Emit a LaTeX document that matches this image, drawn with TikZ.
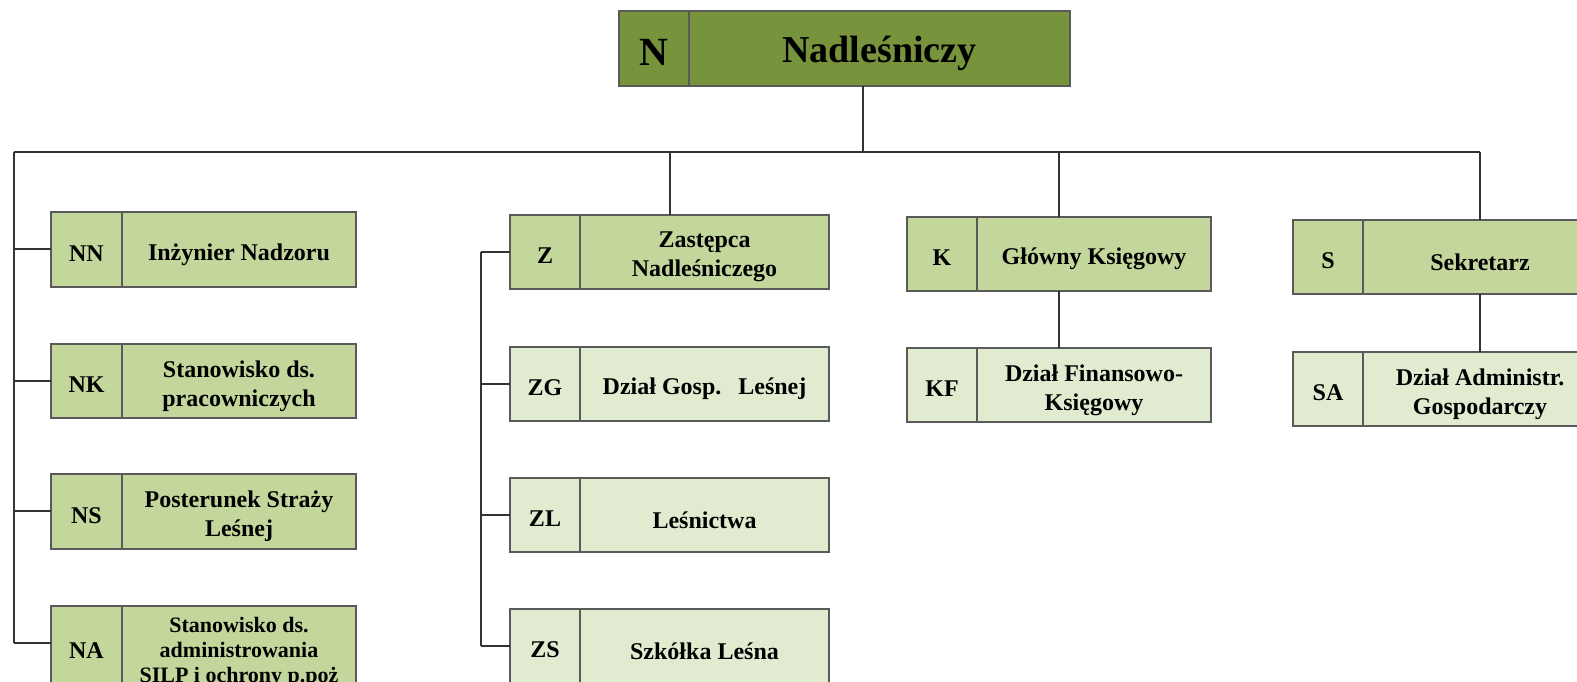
\documentclass[tikz,border=0pt]{standalone}
\usepackage{fontspec}
\setmainfont{Liberation Serif}
\usetikzlibrary{calc}
\definecolor{gdark}{HTML}{77933C}
\definecolor{gmid}{HTML}{C3D69B}
\definecolor{glight}{HTML}{E0EBD0}
\definecolor{bordc}{HTML}{5A5A5A}
\definecolor{linec}{HTML}{333333}
\tikzset{
  box/.style={draw=bordc,line width=1.5pt,rectangle,inner sep=0pt,outer sep=0pt},
  divline/.style={draw=bordc,line width=1.5pt},
  conn/.style={draw=linec,line width=2pt},
  codetxt/.style={font=\fontsize{24}{28}\selectfont\bfseries,inner sep=0pt,yshift=-4pt},
  labtxt/.style={font=\fontsize{24}{29}\selectfont\bfseries,align=center,inner sep=0pt,yshift=-5pt},
}
% name, x1, y1, x2, y2, xdiv, fill, code, label
\newcommand\orgbox[9]{%
  \node[box,fill=#7,minimum width=#4pt-#2pt,minimum height=#5pt-#3pt,anchor=north west] (#1) at (#2,#3) {};
  \draw[divline] (#6,#3) -- (#6,#5);
  \node[codetxt] (#1c) at ({(#2+#6)/2},{(#3+#5)/2}) {#8};
  \node[labtxt] (#1l) at ({(#6+#4)/2},{(#3+#5)/2}) {#9};
}
\begin{document}
\begin{tikzpicture}[x=1pt,y=-1pt]
\useasboundingbox (0,0) rectangle (1577,681);
\clip (0,0) rectangle (1577,681);
% top
\node[box,fill=gdark,minimum width=451pt,minimum height=75pt,anchor=north west] (N) at (619,11) {};
\draw[divline] (689,11) -- (689,86);
\node[font=\fontsize{40}{46}\selectfont\bfseries,inner sep=0pt] (Nc) at (654,52) {N};
\node[font=\fontsize{38}{46}\selectfont\bfseries,inner sep=0pt] (Nl) at (879.5,53) {Nadleśniczy};
% left column
\orgbox{NN}{51}{212}{356}{287}{122}{gmid}{NN}{Inżynier Nadzoru}
\orgbox{NK}{51}{344}{356}{418}{122}{gmid}{NK}{Stanowisko ds.\\pracowniczych}
\orgbox{NS}{51}{474}{356}{549}{122}{gmid}{NS}{Posterunek Straży\\Leśnej}
\node[box,fill=gmid,minimum width=305pt,minimum height=90pt,anchor=north west] (NA) at (51,606) {};
\draw[divline] (122,606) -- (122,696);
\node[codetxt] (NAc) at (86.5,647) {NA};
\node[labtxt,font=\fontsize{22}{25}\selectfont\bfseries] (NAl) at (239,647) {Stanowisko ds.\\administrowania\\SILP i ochrony p.poż};
% Z column
\orgbox{Z}{510}{215}{829}{289}{580}{gmid}{Z}{Zastępca\\Nadleśniczego}
\orgbox{ZG}{510}{347}{829}{421}{580}{glight}{ZG}{Dział Gosp.\hspace{17pt}Leśnej}
\orgbox{ZL}{510}{478}{829}{552}{580}{glight}{ZL}{Leśnictwa}
\node[box,fill=glight,minimum width=319pt,minimum height=90pt,anchor=north west] (ZS) at (510,609) {};
\draw[divline] (580,609) -- (580,699);
\node[codetxt] (ZSc) at (545,646) {ZS};
\node[labtxt] (ZSl) at (704.5,646) {Szkółka Leśna};
% K column
\orgbox{K}{907}{217}{1211}{291}{977}{gmid}{K}{Główny Księgowy}
\orgbox{KF}{907}{348}{1211}{422}{977}{glight}{KF}{Dział Finansowo-\\Księgowy}
% S column
\orgbox{S}{1293}{220}{1597}{294}{1363}{gmid}{S}{Sekretarz}
\orgbox{SA}{1293}{352}{1597}{426}{1363}{glight}{SA}{Dział Administr.\\Gospodarczy}
% connectors
\coordinate (hb) at (863,152);
\coordinate (hl) at (14,152);
\coordinate (hr) at (1480,152);
\coordinate (lbot) at (14,643);
\coordinate (zbus) at (481,0);
\draw[conn] (N.south -| hb) -- (hb);
\draw[conn] (hl) -- (hr);
\draw[conn] (hl) -- (lbot);
\foreach \b in {NN,NK,NS,NA}{
  \coordinate (\b t) at ($(\b.north west)+(0,37)$);
  \draw[conn] (\b t) -- (\b t -| hl);
}
\draw[conn] (Z.north |- hl) -- (Z.north);
\draw[conn] (K.north |- hl) -- (K.north);
\draw[conn] (hr) -- (hr |- S.north);
\foreach \b in {Z,ZG,ZL,ZS}{
  \coordinate (\b t) at ($(\b.north west)+(0,37)$);
  \draw[conn] (\b t) -- (\b t -| zbus);
}
\draw[conn] (Zt -| zbus) -- (ZSt -| zbus);
\draw[conn] (K.south) -- (KF.north);
\draw[conn] (S.south -| hr) -- (SA.north -| hr);
\end{tikzpicture}
\end{document}
